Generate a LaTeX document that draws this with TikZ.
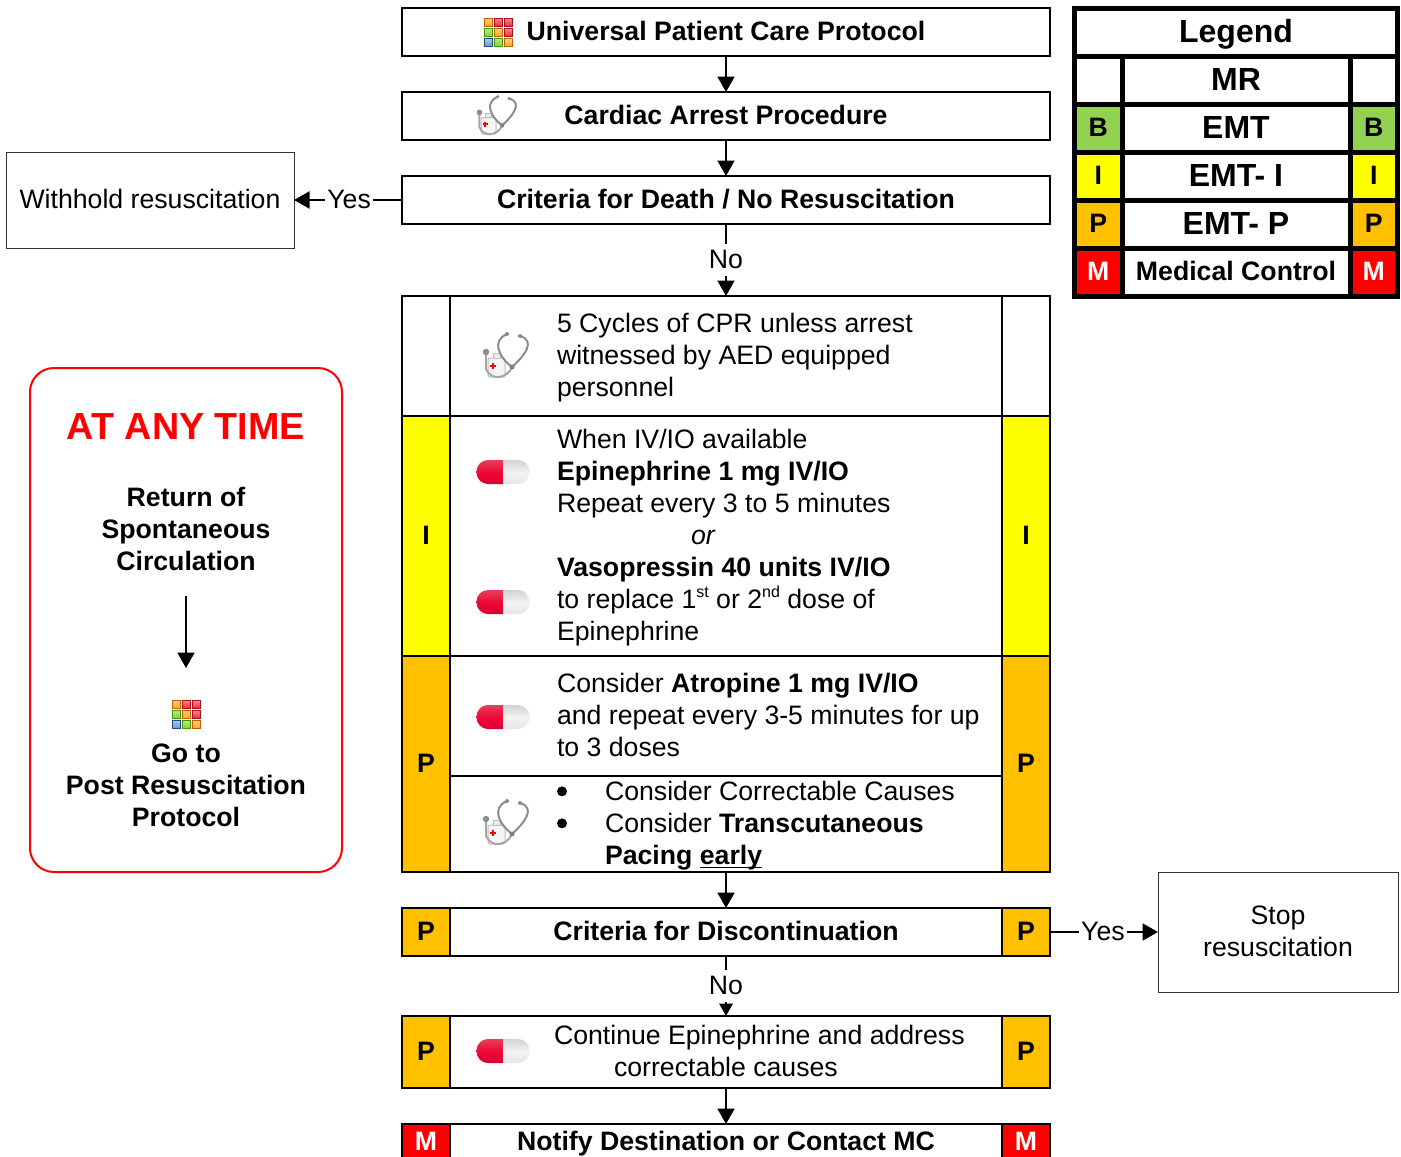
\documentclass[tikz,border=0pt]{standalone}
\usepackage{fontspec}
\setmainfont{Liberation Sans}
\usetikzlibrary{arrows.meta}
\definecolor{cyel}{HTML}{FFFF00}
\definecolor{cora}{HTML}{FFC000}
\definecolor{cgrn}{HTML}{92D050}
\definecolor{cred}{HTML}{FF0000}
\definecolor{gred}{HTML}{E8303C}
\definecolor{gblu}{HTML}{6E9CCB}
\definecolor{gorl}{HTML}{FFA81E}
\definecolor{ggrn}{HTML}{86D23C}
\definecolor{bred}{HTML}{A81020}
\definecolor{bora}{HTML}{C06000}
\definecolor{bgrn}{HTML}{409A00}
\definecolor{bblu}{HTML}{1F4A8C}
\definecolor{pila}{HTML}{E4405C}
\definecolor{pilb}{HTML}{F00838}
\definecolor{pilc}{HTML}{D80030}
\newcommand{\cellbox}[7]{\node[cellbase,#6,minimum width={(#4)-(#2)},minimum height={(#5)-(#3)}] (#1) at ({((#2)+(#4))/2},{((#3)+(#5))/2}) {#7};}
\newcommand{\gridsq}[4]{\shade[top color=#3!55!white,bottom color=#3,draw=#4,line width=1pt] ({#1-4},{#2-4}) rectangle ({#1+4},{#2+4});}
\newcommand{\ulx}[1]{\setbox0\hbox{#1}\rlap{\rule[-3.5pt]{\wd0}{1.8pt}}\box0 }
\newcommand{\bigdot}{\raisebox{4.5pt}{\tikz\fill (0,0) circle (5pt);}}
\newcommand{\supx}[1]{\raisebox{11pt}{\fontsize{16}{16}\selectfont #1}}
\tikzset{
 x=1pt,y=-1pt,
 cellbase/.style={draw=black,line width=2pt,inner sep=0pt,outer sep=0pt,fill=white,font=\fontsize{26.67}{32}\selectfont\bfseries,text=black,text height=24pt,text depth=7pt},
 bld/.style={font=\fontsize{26.67}{32}\selectfont\bfseries},
 txt/.style={inner sep=0pt,outer sep=0pt,align=left,anchor=west,font=\fontsize{26.67}{32}\selectfont},
 yel/.style={fill=cyel},
 ora/.style={fill=cora},
 grn/.style={fill=cgrn},
 rdc/.style={fill=cred,text=white},
 leg/.style={line width=5pt},
 lbig/.style={font=\fontsize{32}{36}\selectfont\bfseries,text height=26pt,text depth=6pt},
 thin box/.style={draw=black!80,line width=1pt,fill=white,inner sep=0pt,outer sep=0pt,font=\fontsize{26.67}{32}\selectfont,align=center,text depth=2pt},
 arr/.style={-{Triangle[length=15.5pt,width=17pt]},line width=2pt,draw=black},
 arrs/.style={-{Triangle[length=12.5pt,width=13.5pt]},line width=2pt,draw=black},
 lab/.style={fill=white,inner xsep=2pt,inner ysep=0pt,minimum height=32pt,text depth=2pt,font=\fontsize{26.67}{32}\selectfont},
 pill/.pic={
   \begin{scope}
   \clip[rounded corners=11.5pt] (-26.5,-12) rectangle (26.5,12);
   \shade[top color=pila,bottom color=pilc,middle color=pilb] (-26.5,-12) rectangle (0,12);
   \shade[top color=black!18,bottom color=black!10,middle color=black!5] (0,-12) rectangle (26.5,12);
   \end{scope}
 },
 steth/.pic={
   \draw[black!25,fill=black!4,line width=1pt,rounded corners=2pt] (-17,3) rectangle (0,22);
   \draw[black!25,fill=black!8,line width=1pt] (-12,-2) rectangle (-5,3);
   \fill[cred] (-15.5,9.5) rectangle (-9.5,11.5);
   \fill[cred] (-13.5,7.5) rectangle (-11.5,13.5);
   \draw[black!45,line width=2pt] (2,-21) .. controls (-14,-14) and (-6,2) .. (7,12) .. controls (18,2) and (32,-14) .. (15,-19);
   \draw[black!35,line width=2pt] (7,12) .. controls (2,24) and (-14,26) .. (-19,14) -- (-19,-2);
   \fill[black!45] (-19,-3) circle (3.2pt);
   \fill[black!45] (2,-21) circle (2pt);
   \fill[black!45] (15,-19) circle (2pt);
   \fill[black!50] (7,12) circle (2.5pt);
 },
 gridicon/.pic={
   \gridsq{-10}{-10}{gorl}{bora}
   \gridsq{0}{-10}{gred}{bred}
   \gridsq{10}{-10}{gred}{bred}
   \gridsq{-10}{0}{ggrn}{bgrn}
   \gridsq{0}{0}{gorl}{bora}
   \gridsq{10}{0}{gred}{bred}
   \gridsq{-10}{10}{gblu}{bblu}
   \gridsq{0}{10}{ggrn}{bgrn}
   \gridsq{10}{10}{gorl}{bora}
 }
}
\begin{document}
\begin{tikzpicture}
\useasboundingbox (0,0) rectangle (1401,1157);
\clip (0,0) rectangle (1401,1157);
% top boxes
\cellbox{univ}{402}{8}{1050}{56}{}{}
\cellbox{card}{402}{92}{1050}{140}{}{}
\cellbox{crit}{402}{176}{1050}{224}{}{}
\node[bld,inner sep=0pt] (univt) at (726,31) {Universal Patient Care Protocol};
\node[bld,inner sep=0pt] (cardt) at (726,115) {Cardiac Arrest Procedure};
\node[bld,inner sep=0pt] (critt) at (726,199) {Criteria for Death / No Resuscitation};
\pic at (498,32) {gridicon};
\pic[scale=0.87] at (496,115) {steth};
% withhold
\node[thin box,minimum width=288pt,minimum height=96pt] (withhold) at (150,200) {Withhold resuscitation};
% main table
\cellbox{al}{402}{296}{450}{416}{}{}
\cellbox{cpr}{450}{296}{1002}{416}{}{}
\cellbox{ar}{1002}{296}{1050}{416}{}{}
\cellbox{il}{402}{416}{450}{656}{yel}{I}
\cellbox{epi}{450}{416}{1002}{656}{}{}
\cellbox{ir}{1002}{416}{1050}{656}{yel}{I}
\cellbox{pl}{402}{656}{450}{872}{ora}{P}
\cellbox{atr}{450}{656}{1002}{776}{}{}
\cellbox{cau}{450}{776}{1002}{872}{}{}
\cellbox{pr}{1002}{656}{1050}{872}{ora}{P}
\node[txt] (t1) at (557,358) {5 Cycles of CPR unless arrest\\witnessed by AED equipped\\personnel};
\node[txt] (t2) at (557,538) {When IV/IO available\\\textbf{Epinephrine 1 mg IV/IO}\\Repeat every 3 to 5 minutes\\\hspace*{134pt}\textit{or}\\\textbf{Vasopressin 40 units IV/IO}\\to replace 1\supx{st} or 2\supx{nd} dose of\\Epinephrine};
\node[txt] (t3) at (557,715) {Consider \textbf{Atropine 1 mg IV/IO}\\and repeat every 3-5 minutes for up\\to 3 doses};
\node[txt] (t4) at (557,826) {\makebox[48pt][l]{\hspace*{0pt}\bigdot}Consider Correctable Causes\\\makebox[48pt][l]{\hspace*{0pt}\bigdot}Consider \textbf{Transcutaneous}\\\hspace*{48pt}\textbf{Pacing \ulx{early}}};
\pic at (505,355) {steth};
\pic at (503,472) {pill};
\pic at (503,602) {pill};
\pic at (503,717) {pill};
\pic at (505,822) {steth};
% discontinuation
\cellbox{dl}{402}{908}{450}{956}{ora}{P}
\cellbox{disc}{450}{908}{1002}{956}{}{Criteria for Discontinuation}
\cellbox{dr}{1002}{908}{1050}{956}{ora}{P}
\node[thin box,minimum width=240pt,minimum height=120pt] (stop) at (1278,932) {Stop\\resuscitation};
% continue
\cellbox{cl}{402}{1016}{450}{1088}{ora}{P}
\cellbox{cont}{450}{1016}{1002}{1088}{}{}
\cellbox{cr}{1002}{1016}{1050}{1088}{ora}{P}
\node[txt] (t5) at (554,1051) {Continue Epinephrine and address\\\hspace*{60pt}correctable causes};
\pic at (503,1051) {pill};
% notify
\cellbox{nl}{402}{1124}{450}{1172}{rdc}{}
\cellbox{noti}{450}{1124}{1002}{1172}{}{}
\cellbox{nr}{1002}{1124}{1050}{1172}{rdc}{}
\node[inner sep=0pt,font=\fontsize{26.67}{32}\selectfont\bfseries,text=white] (nlt) at (426,1141) {M};
\node[inner sep=0pt,font=\fontsize{26.67}{32}\selectfont\bfseries,text=white] (nrt) at (1026,1141) {M};
\node[bld,inner sep=0pt] (notit) at (726,1144) {Notify Destination or Contact MC};
% connectors
\draw[arr] (univ) -- (card);
\draw[arr] (card) -- (crit);
\draw[arr] (crit) -- node[lab] (no1) {No} (cpr);
\draw[arr] (crit.west) -- node[lab,pos=0.49] (yes1) {Yes} (withhold.east);
\draw[arr] (cau) -- (disc);
\draw[arrs] (disc) -- node[lab] (no2) {No} (cont);
\draw[arr] (cont) -- (noti);
\draw[arr] (dr.east) -- node[lab,pos=0.49] (yes2) {Yes} (dr.east -| stop.west);
% any time box
\node[draw=cred,line width=2pt,rounded corners=24pt,fill=none,minimum width=312pt,minimum height=504pt,inner sep=0pt,outer sep=0pt] (anytime) at (186,620) {};
\node[inner sep=0pt,font=\fontsize{37.7}{42}\selectfont\bfseries,text=cred] (atitle) at (186,427) {AT ANY TIME};
\node[inner sep=0pt,align=center,bld] (rosc) at (186,529) {Return of\\Spontaneous\\Circulation};
\coordinate (a1) at (186,596);
\coordinate (a2) at (186,668);
\draw[arr] (a1) -- (a2);
\pic at (186,714) {gridicon};
\node[inner sep=0pt,align=center,bld] (post) at (186,785) {Go to\\Post Resuscitation\\Protocol};
% legend
\cellbox{lh}{1074.5}{8}{1397.5}{56}{leg,lbig}{Legend}
\cellbox{l1a}{1074.5}{56}{1122}{104}{leg}{}
\cellbox{l1}{1122}{56}{1350}{104}{leg,lbig}{MR}
\cellbox{l1b}{1350}{56}{1397.5}{104}{leg}{}
\cellbox{l2a}{1074.5}{104}{1122}{152}{leg,grn}{B}
\cellbox{l2}{1122}{104}{1350}{152}{leg,lbig}{EMT}
\cellbox{l2b}{1350}{104}{1397.5}{152}{leg,grn}{B}
\cellbox{l3a}{1074.5}{152}{1122}{200}{leg,yel}{I}
\cellbox{l3}{1122}{152}{1350}{200}{leg,lbig}{EMT- I}
\cellbox{l3b}{1350}{152}{1397.5}{200}{leg,yel}{I}
\cellbox{l4a}{1074.5}{200}{1122}{248}{leg,ora}{P}
\cellbox{l4}{1122}{200}{1350}{248}{leg,lbig}{EMT- P}
\cellbox{l4b}{1350}{200}{1397.5}{248}{leg,ora}{P}
\cellbox{l5a}{1074.5}{248}{1122}{296}{leg,rdc}{M}
\cellbox{l5}{1122}{248}{1350}{296}{leg}{Medical Control}
\cellbox{l5b}{1350}{248}{1397.5}{296}{leg,rdc}{M}
\end{tikzpicture}
\end{document}
